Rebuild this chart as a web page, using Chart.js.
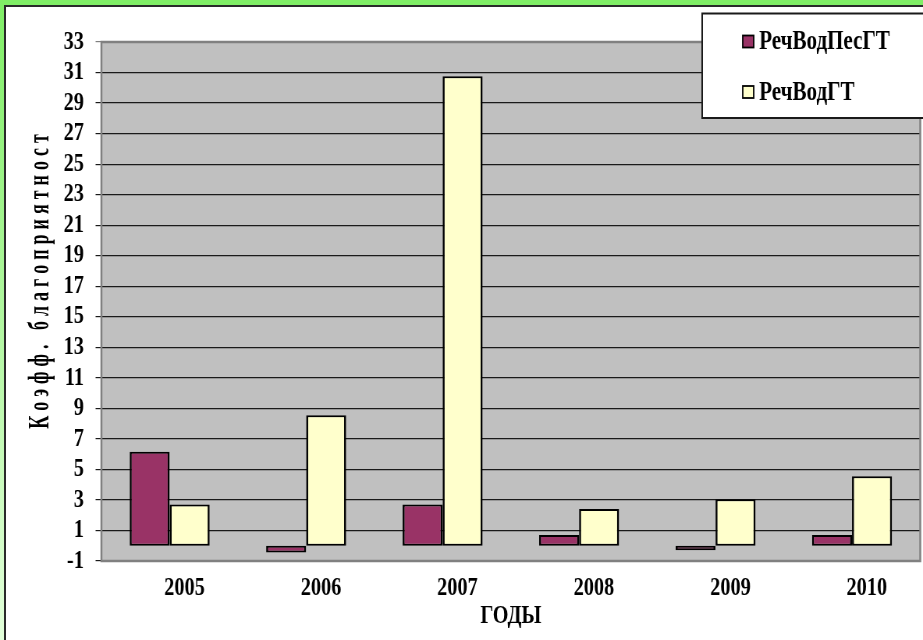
<!DOCTYPE html>
<html lang="ru">
<head>
<meta charset="utf-8">
<title>Коэфф. благоприятност</title>
<script src="https://cdn.jsdelivr.net/npm/chart.js@4.4.1/dist/chart.umd.min.js"></script>
<style>
  html, body { margin: 0; padding: 0; width: 923px; height: 640px; overflow: hidden; background: #fff; }
  #frameTop { position: absolute; left: 0; top: 0; width: 923px; height: 5px; background: #80ee66; }
  #frameLeft { position: absolute; left: 0; top: 0; width: 4px; height: 640px;
               background: linear-gradient(to bottom, #80ee66, #e2ffda); }
  #lineTop { position: absolute; left: 4px; top: 5px; width: 919px; height: 1.5px; background: #2a2a2a; }
  #lineLeft { position: absolute; left: 4px; top: 5px; width: 1.5px; height: 635px; background: #2a2a2a; }
  /* the chart is laid out wide and narrowed horizontally, giving the tall, condensed lettering */
  #wrap { position: absolute; left: 0; top: 0; width: 1183px; height: 640px;
          transform: scaleX(0.7802); transform-origin: 0 0; }
</style>
</head>
<body>
<div id="frameTop"></div>
<div id="frameLeft"></div>
<div id="lineTop"></div>
<div id="lineLeft"></div>
<div id="wrap"><canvas id="chart"></canvas></div>
<script>
// Годы наблюдений
const years = ['2005', '2006', '2007', '2008', '2009', '2010'];

// Коэффициент благоприятности по сериям
const rechVodPesGT = [6.15, -0.45, 2.7, 0.7, -0.3, 0.7];
const rechVodGT = [2.7, 8.55, 30.75, 2.4, 3.05, 4.55];

const seriesNames = ['РечВодПесГТ', 'РечВодГТ'];

// Подписи осей
const yTitle = 'Коэфф. благоприятност';
const xTitle = 'ГОДЫ';

// Шкала Y
const yMin = -1;
const yMax = 33;
const yStep = 2;

const SERIF = '"Liberation Serif", "Times New Roman", serif';
const PLOT_BORDER = '#808080';

// серый фон области построения и рамка вокруг неё
const plotArea = {
  id: 'plotArea',
  beforeDraw(chart) {
    const { ctx, chartArea: a } = chart;
    ctx.save();
    ctx.fillStyle = '#c0c0c0';
    ctx.fillRect(a.left, a.top, a.right - a.left, a.bottom - a.top);
    ctx.restore();
  },
  beforeDatasetsDraw(chart) {
    const { ctx, chartArea: a } = chart;
    ctx.save();
    ctx.strokeStyle = PLOT_BORDER;
    ctx.lineWidth = 2.5;
    ctx.strokeRect(a.left, a.top, a.right - a.left, a.bottom - a.top);
    ctx.restore();
  }
};

// вертикальная подпись оси Y: узкие разреженные буквы
const yAxisTitle = {
  id: 'yAxisTitle',
  afterDraw(chart) {
    const { ctx, chartArea: a } = chart;
    const cx = 52.5;
    const cy = (a.top + a.bottom) / 2 - 20;
    const fontPx = 30, along = 0.6, across = 1.28, gap = 5;
    ctx.save();
    ctx.font = 'bold ' + fontPx + 'px ' + SERIF;
    const chars = Array.from(yTitle);
    const widths = chars.map(c => ctx.measureText(c).width * along);
    const total = widths.reduce((s, w) => s + w, 0) + gap * (chars.length - 1);
    ctx.translate(cx, cy);
    ctx.rotate(-Math.PI / 2);
    ctx.textBaseline = 'middle';
    ctx.textAlign = 'left';
    ctx.fillStyle = '#000';
    let x = -total / 2;
    chars.forEach((c, i) => {
      ctx.save();
      ctx.translate(x, 0);
      ctx.scale(along, across);
      ctx.fillText(c, 0, 0);
      ctx.restore();
      x += widths[i] + gap;
    });
    ctx.restore();
  }
};

// легенда в рамке, в правом верхнем углу поверх области построения
const boxedLegend = {
  id: 'boxedLegend',
  afterDraw(chart) {
    const { ctx } = chart;
    const box = { left: 900, top: 13.5, right: 1200, bottom: 118 };
    const markX = 952, markW = 14, markH = 12, textX = 973;
    const rowY = [41.5, 92];
    ctx.save();
    ctx.fillStyle = '#ffffff';
    ctx.fillRect(box.left, box.top, box.right - box.left, box.bottom - box.top);
    ctx.strokeStyle = '#1a1a1a';
    ctx.lineWidth = 2;
    ctx.strokeRect(box.left, box.top, box.right - box.left, box.bottom - box.top);
    chart.data.datasets.forEach((ds, i) => {
      const y = rowY[i];
      ctx.fillStyle = ds.backgroundColor;
      ctx.fillRect(markX, y - markH / 2, markW, markH);
      ctx.strokeStyle = '#000';
      ctx.lineWidth = 1.8;
      ctx.strokeRect(markX, y - markH / 2, markW, markH);
      ctx.fillStyle = '#000';
      ctx.font = 'bold 27px ' + SERIF;
      ctx.textBaseline = 'middle';
      ctx.textAlign = 'left';
      ctx.fillText(ds.label, textX, y + 1);
    });
    ctx.restore();
  }
};

const barBorder = { left: 2.6, right: 2.6, top: 2, bottom: 2 };

new Chart(document.getElementById('chart'), {
  type: 'bar',
  data: {
    labels: years,
    datasets: [
      {
        label: seriesNames[0],
        data: rechVodPesGT,
        backgroundColor: '#993366',
        borderColor: '#000000',
        borderWidth: barBorder,
        borderSkipped: false
      },
      {
        label: seriesNames[1],
        data: rechVodGT,
        backgroundColor: '#ffffcc',
        borderColor: '#000000',
        borderWidth: barBorder,
        borderSkipped: false
      }
    ]
  },
  options: {
    responsive: true,
    maintainAspectRatio: false,
    animation: false,
    layout: { padding: { top: 42, right: 3.5, bottom: 0, left: 0 } },
    datasets: { bar: { barPercentage: 1, categoryPercentage: 0.586 } },
    plugins: {
      legend: { display: false },
      tooltip: { enabled: false }
    },
    scales: {
      x: {
        grid: { display: false },
        border: { display: false },
        ticks: {
          color: '#000',
          padding: 4,
          labelOffset: 19,
          font: { family: SERIF, size: 26, weight: 'bold' }
        },
        title: {
          display: true,
          text: xTitle,
          color: '#000',
          padding: { top: 0, bottom: 8 },
          font: { family: SERIF, size: 26, weight: 'bold' }
        },
        afterFit(scale) { scale.height = 79; }
      },
      y: {
        min: yMin,
        max: yMax,
        grid: {
          color: (c) => (c.tick && (c.tick.value === yMin || c.tick.value === yMax)) ? PLOT_BORDER : '#1a1a1a',
          tickColor: (c) => (c.tick && c.tick.value === yMax) ? PLOT_BORDER : '#1a1a1a',
          lineWidth: 1.2,
          tickLength: 7.5,
          drawTicks: true
        },
        border: { display: false },
        ticks: {
          stepSize: yStep,
          autoSkip: false,
          color: '#000',
          padding: 15,
          font: { family: SERIF, size: 26, weight: 'bold' }
        },
        title: { display: false },
        afterFit(scale) { scale.width = 130; }
      }
    }
  },
  plugins: [plotArea, yAxisTitle, boxedLegend]
});
</script>
</body>
</html>
